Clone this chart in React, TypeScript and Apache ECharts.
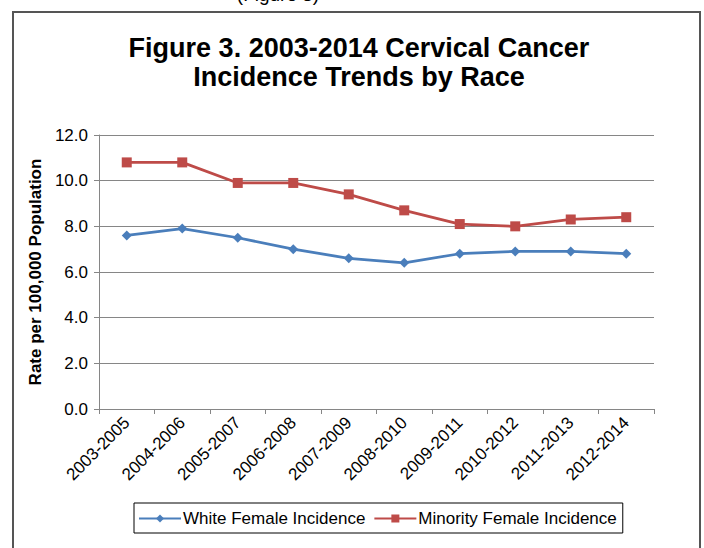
import React, { useEffect, useRef } from "react";
import * as echarts from "echarts";

const categories = [
  "2003-2005", "2004-2006", "2005-2007", "2006-2008", "2007-2009",
  "2008-2010", "2009-2011", "2010-2012", "2011-2013", "2012-2014",
];
const whiteFemale = [7.6, 7.9, 7.5, 7.0, 6.6, 6.4, 6.8, 6.9, 6.9, 6.8];
const minorityFemale = [10.8, 10.8, 9.9, 9.9, 9.4, 8.7, 8.1, 8.0, 8.3, 8.4];
const seriesNames = ["White Female Incidence", "Minority Female Incidence"];
const titleText = "Figure 3. 2003-2014 Cervical Cancer\nIncidence Trends by Race";
const yAxisName = "Rate per 100,000 Population";
const topCaption = "(Figure 3)";

const FONT = "'Liberation Sans', Arial, sans-serif";

export default function App() {
  const ref = useRef<HTMLDivElement>(null);
  useEffect(() => {
    if (!ref.current) return;
    const chart = echarts.init(ref.current, null, { renderer: "svg" });
    chart.setOption({
      animation: false,
      backgroundColor: "#ffffff",
      title: {
        text: titleText,
        left: 354,
        textAlign: "center",
        top: 28,
        textStyle: {
          fontFamily: FONT,
          fontWeight: "bold",
          fontSize: 27,
          lineHeight: 29,
          color: "#000",
        },
      },
      graphic: [
        {
          type: "rect",
          shape: { x: 13, y: 12, width: 687, height: 560 },
          style: { fill: "none", stroke: "#555555", lineWidth: 2 },
          silent: true,
        },
        {
          type: "text",
          x: 278,
          y: 4,
          style: {
            text: topCaption,
            fontFamily: FONT,
            fontSize: 19,
            fill: "#000",
            align: "center",
            verticalAlign: "bottom",
          },
          silent: true,
        },
      ],
      legend: {
        left: 134,
        top: 503,
        itemWidth: 42,
        itemHeight: 10,
        itemGap: 8,
        padding: [7, 6, 6, 4],
        borderColor: "#000",
        borderWidth: 1,
        textStyle: { fontFamily: FONT, fontSize: 17, color: "#000", padding: [0, 0, 0, -3] },
        data: seriesNames,
      },
      grid: { left: 99, right: 50, top: 135, bottom: 139, containLabel: false },
      xAxis: {
        type: "category",
        data: categories,
        boundaryGap: true,
        axisLine: { lineStyle: { color: "#868686", width: 1 } },
        axisTick: { show: true, length: 5, alignWithLabel: false, lineStyle: { color: "#868686" } },
        axisLabel: {
          rotate: 45,
          margin: 11,
          fontFamily: FONT,
          fontSize: 17,
          color: "#000",
          interval: 0,
        },
      },
      yAxis: {
        type: "value",
        min: 0,
        max: 12,
        interval: 2,
        name: yAxisName,
        nameLocation: "middle",
        nameGap: 49,
        nameTextStyle: { fontFamily: FONT, fontWeight: "bold", fontSize: 17, color: "#000" },
        axisLine: { show: true, lineStyle: { color: "#868686", width: 1 } },
        axisTick: { show: true, length: 5, lineStyle: { color: "#868686" } },
        splitLine: { show: true, lineStyle: { color: "#868686", width: 1 } },
        axisLabel: {
          margin: 11,
          fontFamily: FONT,
          fontSize: 17,
          color: "#000",
          formatter: (v: number) => v.toFixed(1),
        },
      },
      series: [
        {
          name: seriesNames[0],
          type: "line",
          data: whiteFemale,
          symbol: "diamond",
          symbolSize: 10,
          color: "#4a7ebb",
          lineStyle: { width: 2.75, color: "#4a7ebb" },
          itemStyle: { color: "#4a7ebb" },
        },
        {
          name: seriesNames[1],
          type: "line",
          data: minorityFemale,
          symbol: "rect",
          symbolSize: 10,
          color: "#be4b48",
          lineStyle: { width: 2.75, color: "#be4b48" },
          itemStyle: { color: "#be4b48" },
        },
      ],
    });
    return () => chart.dispose();
  }, []);
  return (
    <div
      ref={ref}
      style={{ position: "fixed", left: 0, top: 0, width: 704, height: 548 }}
    />
  );
}
